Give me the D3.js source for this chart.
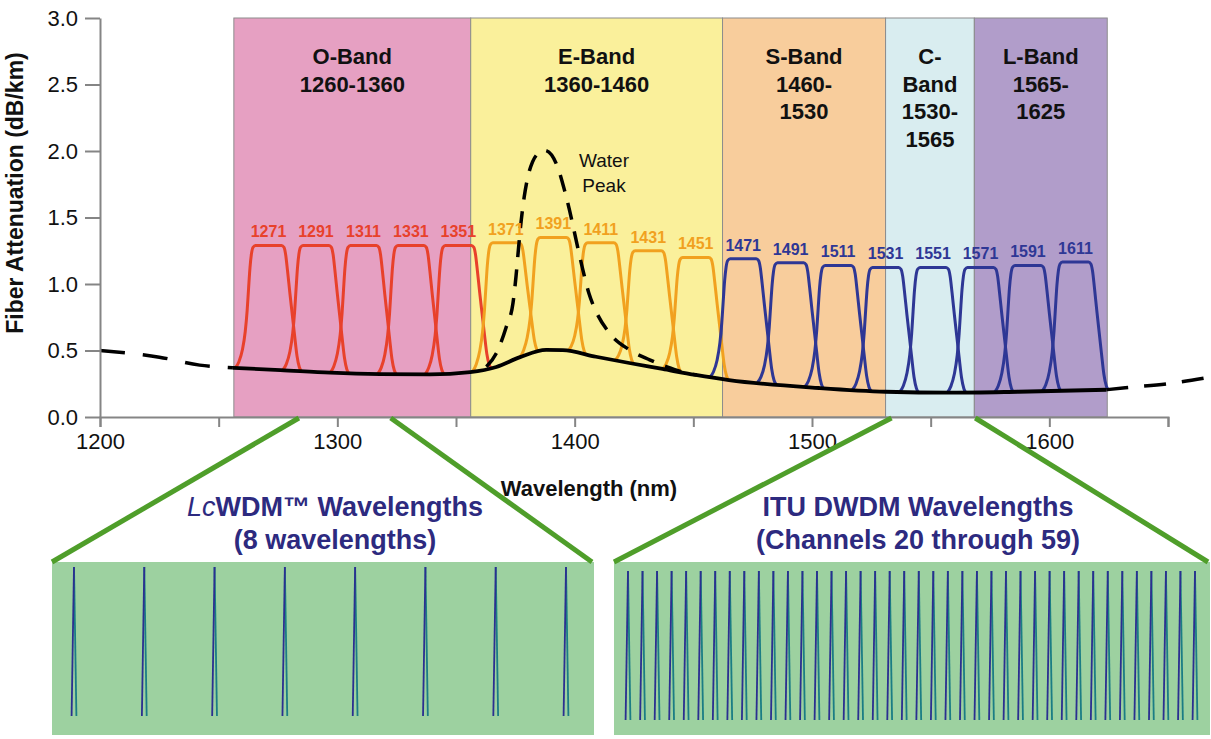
<!DOCTYPE html>
<html><head><meta charset="utf-8">
<script src="https://cdn.jsdelivr.net/npm/d3@7/dist/d3.min.js"></script>
<style>
body{margin:0;background:#fff}
svg{display:block;font-family:"Liberation Sans",Arial,Helvetica,sans-serif}
</style>
</head><body>
<svg id="chart" width="1211" height="739"></svg>
<script>
// ---------------- DATA ----------------
const xTicks = [1200,1250,1300,1350,1400,1450,1500,1550,1600,1650];
const xTickLabels = [1200,1300,1400,1500,1600];
const yTicks = [0,0.5,1.0,1.5,2.0,2.5,3.0];

// bands (edges as drawn in the picture, nm)
const bandStart = [1256.4,1356.2,1462.3,1531.0,1568.4];
const bandEnd   = [1356.2,1462.3,1531.0,1568.4,1624.4];
const bandColors = ["#e6a0c2","#faf09b","#f8cd9c","#d9edf0","#b19dca"];
const bandLabels = [
  ["O-Band","1260-1360"],
  ["E-Band","1360-1460"],
  ["S-Band","1460-","1530"],
  ["C-","Band","1530-","1565"],
  ["L-Band","1565-","1625"]
];

// fiber attenuation curve (dB/km)
const attenWl  = [1200,1225,1242,1256,1276,1297,1318,1339,1356,1367,1377,1388,1395,1409,1423,1437,1451,1465,1503,1531,1559,1587,1624,1632,1650,1668];
const attenVal = [0.50,0.45,0.39,0.37,0.353,0.333,0.323,0.321,0.338,0.376,0.45,0.505,0.503,0.453,0.406,0.361,0.316,0.278,0.218,0.19,0.183,0.19,0.205,0.22,0.25,0.30];
const solidFrom = 1256, solidTo = 1624;

// water peak (dashed)
const waterWl  = [1362.8,1367.0,1371.2,1374.0,1375.3,1376.4,1377.5,1378.7,1380.2,1382.3,1384.8,1387.4,1390.3,1393.0,1395.8,1397.9,1400.0,1403.4,1406.0,1409.1,1414.7,1423.2,1431.6,1438.6,1447.0,1451.4];
const waterVal = [0.378,0.479,0.679,0.855,1.06,1.28,1.48,1.65,1.80,1.92,1.985,2.005,1.97,1.87,1.70,1.55,1.38,1.11,0.93,0.79,0.63,0.504,0.43,0.378,0.33,0.316];

// CWDM channels
const cwdmCenters = [1271,1291,1311,1331,1351,1371,1391,1411,1431,1451,1471,1491,1511,1531,1551,1571,1591,1611];
const cwdmPeaks   = [1.29,1.29,1.29,1.29,1.29,1.31,1.35,1.31,1.25,1.20,1.19,1.16,1.14,1.125,1.125,1.125,1.14,1.165];
const cwdmGroup   = [0,0,0,0,0,1,1,1,1,1,2,2,2,2,2,2,2,2];
const groupColors = ["#e8412b","#f1a11f","#2e3795"];

// filter passband profile (offset nm -> fraction of height)
const profileOffset = [-14,-12.5,-11,-9.8,-9.0,-8.4,-7.8,-7.2,-6.5,-5.5,5.5,6.5,7.2,8.0,9.0,10.0,11.0,12.0,13.0,13.8];
const profileFrac   = [0,0.05,0.15,0.3,0.47,0.65,0.82,0.93,0.985,1,1,0.985,0.93,0.8,0.62,0.45,0.28,0.12,0.03,0];

// zoom panels
const zoomRanges = [[1283.8,1322.5],[1533.5,1568.8]];
const lcwdmChannels = [1,2,3,4,5,6,7,8];
const dwdmChannels = [20,21,22,23,24,25,26,27,28,29,30,31,32,33,34,35,36,37,38,39,40,41,42,43,44,45,46,47,48,49,50,51,52,53,54,55,56,57,58,59];

// ---------------- DRAW ----------------
const svg = d3.select("#chart");
const x = d3.scaleLinear().domain([1200,1650]).range([100,1168]);
const y = d3.scaleLinear().domain([0,3]).range([417,18]);
const axisCol = "#858585";
const FONT = '"Liberation Sans",Arial,sans-serif';

// bands
bandStart.forEach((s,i)=>{
  svg.append("rect").attr("x",x(s)).attr("y",y(3)).attr("width",x(bandEnd[i])-x(s)).attr("height",y(0)-y(3))
    .attr("fill",bandColors[i]).attr("stroke","#8c8c8c").attr("stroke-width",1);
  const cx = (x(s)+x(bandEnd[i]))/2;
  const t = svg.append("text").attr("text-anchor","middle").attr("font-weight","bold").attr("font-size",22).attr("fill","#111");
  bandLabels[i].forEach((ln,j)=>{
    t.append("tspan").attr("x",cx).attr("y",64+j*27.5).text(ln);
  });
});

// helper: attenuation interpolation
function attenAt(wl){
  const i = d3.bisectLeft(attenWl, wl);
  if(i<=0) return attenVal[0];
  if(i>=attenWl.length) return attenVal[attenVal.length-1];
  const t=(wl-attenWl[i-1])/(attenWl[i]-attenWl[i-1]);
  return attenVal[i-1]+t*(attenVal[i]-attenVal[i-1]);
}

// channel curves
const chLine = d3.line().x(d=>x(d[0])).y(d=>y(d[1])).curve(d3.curveMonotoneX);
cwdmCenters.forEach((c,k)=>{
  const pts = profileOffset.map((o,i)=>{
    const wl=c+o, b=attenAt(wl);
    return [wl, b+(cwdmPeaks[k]-b)*profileFrac[i]];
  });
  svg.append("path").attr("d",chLine(pts)).attr("fill","none")
    .attr("stroke",groupColors[cwdmGroup[k]]).attr("stroke-width",3).attr("stroke-linejoin","round");
});

// attenuation curve
const aPts = attenWl.map((w,i)=>[w,attenVal[i]]);
const aLine = d3.line().x(d=>x(d[0])).y(d=>y(d[1])).curve(d3.curveMonotoneX);
svg.append("path").attr("d",aLine(aPts.filter(d=>d[0]<=solidFrom))).attr("fill","none")
  .attr("stroke","#000").attr("stroke-width",3.5).attr("stroke-dasharray","25,18");
svg.append("path").attr("d",aLine(aPts.filter(d=>d[0]>=solidFrom&&d[0]<=solidTo))).attr("fill","none")
  .attr("stroke","#000").attr("stroke-width",3.8);
svg.append("path").attr("d",aLine(aPts.filter(d=>d[0]>=solidTo))).attr("fill","none")
  .attr("stroke","#000").attr("stroke-width",3.5).attr("stroke-dasharray","22,16");

// water peak
const wPts = waterWl.map((w,i)=>[w,waterVal[i]]);
svg.append("path").attr("d",aLine(wPts)).attr("fill","none")
  .attr("stroke","#000").attr("stroke-width",3.5).attr("stroke-dasharray","17,12");
const wp = svg.append("text").attr("text-anchor","middle").attr("font-size",19).attr("fill","#111");
wp.append("tspan").attr("x",604).attr("y",167).text("Water");
wp.append("tspan").attr("x",604).attr("y",192).text("Peak");

// channel labels
cwdmCenters.forEach((c,k)=>{
  svg.append("text").attr("x",x(c)).attr("y",y(cwdmPeaks[k])-8).attr("text-anchor","middle")
    .attr("font-size",16).attr("font-weight","bold").attr("fill",groupColors[cwdmGroup[k]]).text(c);
});

// axes
const gx = svg.append("g").attr("transform",`translate(0,${y(0)})`)
  .call(d3.axisBottom(x).tickValues(xTicks).tickSize(10).tickFormat(d=>xTickLabels.includes(d)?d:""));
gx.select(".domain").attr("stroke",axisCol).attr("stroke-width",2);
gx.selectAll(".tick line").attr("stroke",axisCol).attr("stroke-width",2);
gx.selectAll(".tick text").attr("font-size",22).attr("fill","#111").attr("dy",null).attr("y",32);

const gy = svg.append("g").attr("transform",`translate(${x(1200)},0)`)
  .call(d3.axisLeft(y).tickValues(yTicks).tickSize(15).tickSizeOuter(0).tickFormat(d3.format(".1f")));
gy.select(".domain").attr("stroke",axisCol).attr("stroke-width",2);
gy.selectAll(".tick line").attr("stroke",axisCol).attr("stroke-width",2);
gy.selectAll(".tick text").attr("font-size",22).attr("fill","#111").attr("x",-22);
svg.selectAll(".tick text").attr("font-family",FONT);

svg.append("text").attr("x",589).attr("y",496).attr("text-anchor","middle").attr("font-size",22)
  .attr("font-weight","bold").attr("fill","#111").text("Wavelength (nm)");
svg.append("text").attr("transform","translate(23,193) rotate(-90)").attr("text-anchor","middle")
  .attr("font-size",23).attr("font-weight","bold").attr("fill","#111").text("Fiber Attenuation (dB/km)");

// zoom panels
const panels = [
  {x0:52,x1:594,y0:562,y1:735,sx0:74,sx1:566,top:567,bot:716,chans:lcwdmChannels,
   title:[["Lc","WDM™ Wavelengths"],"(8 wavelengths)"],cx:335},
  {x0:614,x1:1210,y0:562,y1:735,sx0:628,sx1:1195,top:571,bot:720,chans:dwdmChannels,
   title:[[null,"ITU DWDM Wavelengths"],"(Channels 20 through 59)"],cx:918}
];
const green = "#4f9e2a", navy="#2d2a7f";
panels.forEach((p,i)=>{
  svg.append("rect").attr("x",p.x0).attr("y",p.y0).attr("width",p.x1-p.x0).attr("height",p.y1-p.y0).attr("fill","#9dd1a0");
  const r = zoomRanges[i];
  svg.append("line").attr("x1",x(r[0])).attr("y1",y(0)+1).attr("x2",p.x0).attr("y2",p.y0)
    .attr("stroke",green).attr("stroke-width",5);
  svg.append("line").attr("x1",x(r[1])).attr("y1",y(0)+1).attr("x2",p.x1-2).attr("y2",p.y0)
    .attr("stroke",green).attr("stroke-width",5);
  const sx = d3.scalePoint().domain(p.chans).range([p.sx0,p.sx1]);
  p.chans.forEach(ch=>{
    const cx = sx(ch);
    svg.append("line").attr("x1",cx).attr("y1",p.top).attr("x2",cx+2.4).attr("y2",p.bot).attr("stroke","#1b7d84").attr("stroke-width",1.8);
    svg.append("line").attr("x1",cx).attr("y1",p.top).attr("x2",cx-2.4).attr("y2",p.bot).attr("stroke","#2b2f90").attr("stroke-width",1.8);
  });
  const t1 = svg.append("text").attr("x",p.cx).attr("y",516).attr("text-anchor","middle").attr("font-size",27)
    .attr("font-weight","bold").attr("fill",navy);
  if(p.title[0][0]) t1.append("tspan").attr("font-style","italic").attr("font-weight","normal").text(p.title[0][0]);
  t1.append("tspan").text(p.title[0][1]);
  svg.append("text").attr("x",p.cx).attr("y",549).attr("text-anchor","middle").attr("font-size",27)
    .attr("font-weight","bold").attr("fill",navy).text(p.title[1]);
});
</script>
</body></html>
